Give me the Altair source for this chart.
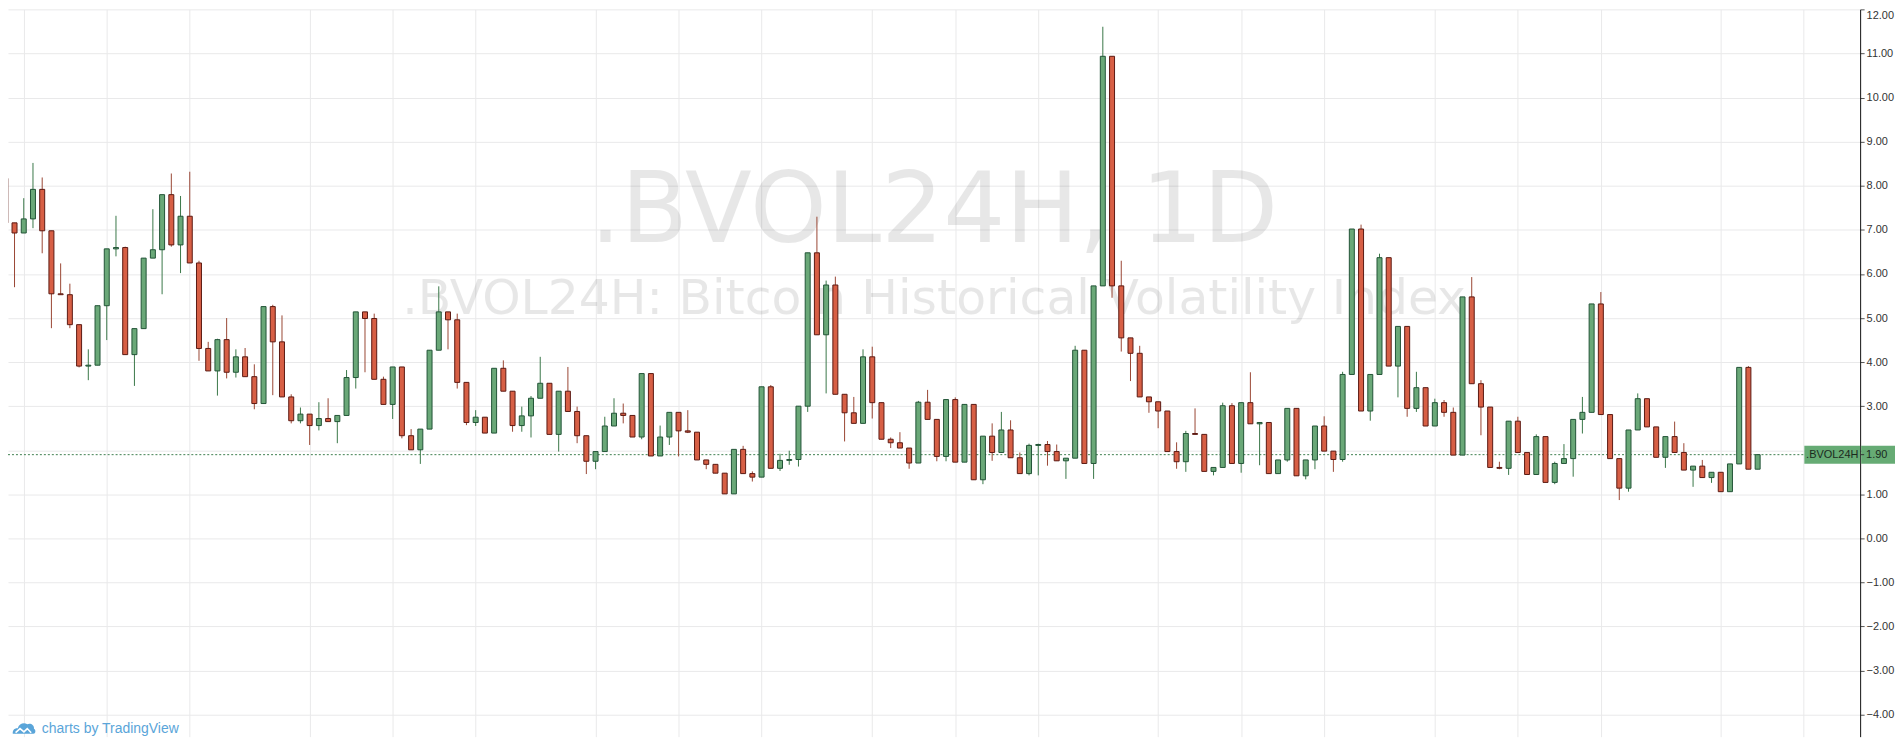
import altair as alt
import numpy as np
import pandas as pd

# ---------------- data ----------------
opens = [8.17, 7.16, 6.93, 7.25, 7.92, 6.98, 5.55, 5.53, 4.85, 3.91,
         3.93, 5.28, 6.57, 6.60, 4.17, 4.76, 6.36, 6.55, 7.80, 6.66,
         7.31, 6.25, 4.31, 3.80, 4.51, 3.77, 4.12, 3.67, 3.06, 5.26,
         4.46, 3.21, 2.67, 2.82, 2.56, 2.72, 2.65, 2.79, 3.65, 5.14,
         4.99, 3.61, 3.04, 3.89, 2.33, 2.01, 2.48, 4.27, 5.14, 4.96,
         3.54, 2.63, 2.75, 2.39, 3.86, 3.34, 2.56, 2.78, 3.18, 3.52,
         2.36, 3.34, 2.88, 2.33, 1.75, 1.97, 2.55, 2.84, 2.79, 2.30,
         3.74, 1.87, 2.30, 2.86, 2.44, 2.41, 1.78, 1.68, 1.48, 1.01,
         2.02, 1.47, 1.39, 3.44, 1.59, 1.77, 1.79, 3.00, 6.48, 4.62,
         5.75, 3.27, 2.85, 2.61, 4.12, 3.08, 2.25, 2.17, 2.05, 1.71,
         3.09, 2.70, 1.86, 3.15, 1.73, 3.04, 1.33, 2.32, 1.95, 2.46,
         1.83, 1.47, 2.11, 2.13, 1.97, 1.76, 1.82, 4.27, 1.70, 5.73,
         10.94, 5.73, 4.55, 4.20, 3.21, 3.10, 2.89, 1.97, 1.74, 2.38,
         2.36, 1.52, 1.61, 3.01, 1.70, 3.08, 2.60, 2.63, 1.47, 1.78,
         2.95, 1.42, 1.78, 2.55, 1.98, 1.79, 3.72, 7.02, 2.89, 3.72,
         6.37, 3.91, 4.81, 2.95, 3.42, 2.55, 3.08, 2.86, 1.89, 5.48,
         3.51, 2.98, 1.61, 1.59, 2.66, 1.95, 1.45, 2.31, 1.27, 1.70,
         1.81, 2.70, 2.86, 5.32, 2.81, 1.81, 1.14, 2.46, 3.17, 2.53,
         1.84, 2.31, 1.95, 1.55, 1.64, 1.38, 1.50, 1.06, 1.69, 3.88,
         1.57]
highs = [8.49, 7.16, 7.72, 8.52, 8.19, 6.98, 6.24, 5.78, 4.85, 4.29,
         5.28, 6.57, 7.32, 6.62, 4.76, 6.36, 7.47, 7.80, 8.28, 7.77,
         8.32, 6.30, 4.46, 4.53, 5.00, 4.29, 4.32, 3.95, 5.26, 5.30,
         5.06, 3.27, 2.97, 2.82, 3.09, 3.18, 2.79, 3.82, 5.14, 5.14,
         5.10, 3.67, 3.89, 3.89, 2.48, 2.48, 4.27, 5.72, 5.14, 5.10,
         3.54, 2.91, 2.75, 3.86, 4.04, 3.34, 2.99, 3.23, 4.12, 3.52,
         3.34, 3.89, 2.99, 2.33, 1.97, 2.76, 3.18, 3.06, 2.79, 3.74,
         3.74, 2.56, 2.86, 2.86, 2.91, 2.41, 1.78, 1.68, 1.48, 2.02,
         2.10, 1.52, 3.44, 3.48, 1.92, 1.99, 3.00, 6.48, 7.30, 5.85,
         5.94, 3.27, 3.21, 4.29, 4.35, 3.08, 2.29, 2.41, 2.05, 3.12,
         3.37, 2.70, 3.15, 3.20, 3.04, 3.04, 2.32, 2.61, 2.87, 2.68,
         1.95, 2.15, 2.15, 2.21, 2.13, 1.82, 4.37, 4.27, 5.73, 11.61,
         10.94, 6.30, 4.55, 4.37, 3.21, 3.10, 2.89, 2.18, 2.44, 2.95,
         2.36, 1.61, 3.08, 3.07, 3.08, 3.77, 2.63, 2.63, 1.78, 2.95,
         2.95, 1.78, 2.55, 2.77, 1.98, 3.78, 7.02, 7.12, 3.72, 6.46,
         6.37, 4.81, 4.81, 3.78, 3.42, 3.17, 3.14, 2.97, 5.48, 5.93,
         3.59, 2.98, 1.74, 2.66, 2.76, 1.95, 2.36, 2.31, 1.74, 2.14,
         2.70, 3.21, 5.32, 5.59, 2.81, 1.81, 2.46, 3.29, 3.17, 2.53,
         2.31, 2.65, 2.16, 1.64, 1.78, 1.50, 1.50, 1.69, 3.88, 3.91,
         1.90]
lows = [7.05, 5.70, 6.93, 7.04, 6.47, 4.77, 5.53, 4.77, 3.88, 3.59,
        3.93, 4.50, 6.40, 4.17, 3.46, 4.76, 6.36, 5.54, 6.62, 6.02,
        6.25, 4.03, 3.80, 3.24, 3.63, 3.65, 3.67, 2.93, 3.06, 3.25,
        3.21, 2.61, 2.61, 2.12, 2.45, 2.65, 2.16, 2.79, 3.40, 3.77,
        3.61, 3.04, 2.71, 2.27, 2.01, 1.69, 2.48, 4.27, 4.29, 3.40,
        2.57, 2.55, 2.39, 2.39, 3.34, 2.42, 2.42, 2.29, 3.18, 2.36,
        1.97, 2.88, 2.16, 1.46, 1.57, 1.97, 2.55, 2.61, 2.30, 2.25,
        1.87, 1.87, 2.12, 1.86, 2.39, 1.78, 1.57, 1.48, 1.01, 1.01,
        1.47, 1.29, 1.39, 1.59, 1.53, 1.67, 1.63, 2.87, 4.62, 3.29,
        3.27, 2.20, 2.61, 2.61, 2.72, 2.25, 2.05, 2.05, 1.58, 1.71,
        2.70, 1.75, 1.75, 1.73, 1.73, 1.33, 1.23, 1.76, 1.95, 1.83,
        1.47, 1.43, 1.43, 1.65, 1.76, 1.35, 1.82, 1.70, 1.35, 5.73,
        5.46, 4.24, 3.57, 3.21, 2.85, 2.50, 1.97, 1.58, 1.51, 2.36,
        1.52, 1.43, 1.61, 1.70, 1.49, 2.60, 1.66, 1.47, 1.47, 1.74,
        1.42, 1.34, 1.57, 1.98, 1.51, 1.74, 3.72, 2.89, 2.67, 3.72,
        3.91, 3.20, 2.76, 2.87, 2.55, 2.55, 2.76, 1.89, 1.89, 3.51,
        2.34, 1.61, 1.57, 1.44, 1.95, 1.45, 1.45, 1.27, 1.23, 1.70,
        1.40, 2.38, 2.86, 2.81, 1.81, 0.87, 1.06, 2.46, 2.53, 1.84,
        1.60, 1.95, 1.55, 1.17, 1.38, 1.26, 1.06, 1.06, 1.69, 1.57,
        1.57]
closes = [7.16, 6.93, 7.25, 7.92, 6.98, 5.55, 5.53, 4.85, 3.91, 3.93,
          5.28, 6.57, 6.60, 4.17, 4.76, 6.36, 6.55, 7.80, 6.66, 7.31,
          6.25, 4.31, 3.80, 4.51, 3.77, 4.12, 3.67, 3.06, 5.26, 4.46,
          3.21, 2.67, 2.82, 2.56, 2.72, 2.65, 2.79, 3.65, 5.14, 4.99,
          3.61, 3.04, 3.89, 2.33, 2.01, 2.48, 4.27, 5.14, 4.96, 3.54,
          2.63, 2.75, 2.39, 3.86, 3.34, 2.56, 2.78, 3.18, 3.52, 2.36,
          3.34, 2.88, 2.33, 1.75, 1.97, 2.55, 2.84, 2.79, 2.30, 3.74,
          1.87, 2.30, 2.86, 2.44, 2.41, 1.78, 1.68, 1.48, 1.01, 2.02,
          1.47, 1.39, 3.44, 1.59, 1.77, 1.79, 3.00, 6.48, 4.62, 5.75,
          3.27, 2.85, 2.61, 4.12, 3.08, 2.25, 2.17, 2.05, 1.71, 3.09,
          2.70, 1.86, 3.15, 1.73, 3.04, 1.33, 2.32, 1.95, 2.46, 1.83,
          1.47, 2.11, 2.13, 1.97, 1.76, 1.82, 4.27, 1.70, 5.73, 10.94,
          5.73, 4.55, 4.20, 3.21, 3.10, 2.89, 1.97, 1.74, 2.38, 2.36,
          1.52, 1.61, 3.01, 1.70, 3.08, 2.60, 2.63, 1.47, 1.78, 2.95,
          1.42, 1.78, 2.55, 1.98, 1.79, 3.72, 7.02, 2.89, 3.72, 6.37,
          3.91, 4.81, 2.95, 3.42, 2.55, 3.08, 2.86, 1.89, 5.48, 3.51,
          2.98, 1.61, 1.59, 2.66, 1.95, 1.45, 2.31, 1.27, 1.70, 1.81,
          2.70, 2.86, 5.32, 2.81, 1.81, 1.14, 2.46, 3.17, 2.53, 1.84,
          2.31, 1.95, 1.55, 1.64, 1.38, 1.50, 1.06, 1.69, 3.88, 1.57,
          1.90]

grid_idx = [2, 11, 20, 33, 42, 51, 64, 73, 82, 94, 103, 112, 125, 134,
            143, 155, 164, 173, 186, 195]
y_ticks = list(range(-4, 13))
last_value = [1.90]
symbol = ".BVOL24H"
title_big = ".BVOL24H, 1D"
title_small = ".BVOL24H: Bitcoin Historical Volatility Index"
credit = "charts by TradingView"

# ---------------- layout ----------------
W, H = 1859, 730
PITCH = 9.257
X0 = 0.292
x_dom = [X0, X0 + W / PITCH]
y_dom = [-4.499, 12.005]

UP_FILL, DOWN_FILL = "#6aa878", "#d75f45"
UP_LINE, DOWN_LINE = "#225437", "#5b1a13"
UP_WICK, DOWN_WICK = "#3a7748", "#9a4634"
GRID = "#e9e9ea"
LABEL_GREEN = "#66ab74"

df = pd.DataFrame({"i": np.arange(len(opens)), "open": opens, "high": highs,
                   "low": lows, "close": closes})
df["dir"] = np.where(df["close"] >= df["open"], "up", "down")

xs = alt.Scale(domain=x_dom, nice=False, zero=False, padding=0)
ys = alt.Scale(domain=y_dom, nice=False, zero=False, padding=0)

x_axis = alt.Axis(values=grid_idx, labels=False, ticks=False, domain=False,
                  title=None, grid=True, gridColor=GRID, gridWidth=1)
y_axis = alt.Axis(orient="right", values=y_ticks, title=None, grid=True,
                  gridColor=GRID, gridWidth=1,
                  labelExpr="datum.value == 2 ? '' : format(datum.value, '.2f')",
                  labelFont="Liberation Sans", labelFontSize=11,
                  labelColor="#333333", labelPadding=2,
                  labelBaseline={"condition": {"test": "datum.value == 12", "value": "top"},
                                 "value": "middle"},
                  domainColor="#111111", domainWidth=1,
                  tickColor="#555555", tickSize=4)

X = alt.X("i:Q", scale=xs, axis=x_axis)

wick_color = alt.Color("dir:N", scale=alt.Scale(domain=["up", "down"],
                                                range=[UP_WICK, DOWN_WICK]), legend=None)
fill_color = alt.Color("dir:N", scale=alt.Scale(domain=["up", "down"],
                                                range=[UP_FILL, DOWN_FILL]), legend=None)
stroke_color = alt.Stroke("dir:N", scale=alt.Scale(domain=["up", "down"],
                                                   range=[UP_LINE, DOWN_LINE]), legend=None)

# watermark texts
wm_big = alt.Chart(pd.DataFrame({"t": [title_big]})).mark_text(
    font="DejaVu Sans", fontSize=98, align="center", baseline="alphabetic",
    color="#000000", opacity=0.09
).encode(x=alt.value(W / 2), y=alt.value(234), text="t:N")

wm_small = alt.Chart(pd.DataFrame({"t": [title_small]})).mark_text(
    font="DejaVu Sans", fontSize=49, align="center", baseline="alphabetic",
    color="#000000", opacity=0.09
).encode(x=alt.value(W / 2), y=alt.value(306), text="t:N")

price_df = pd.DataFrame({"v": last_value, "sym": [symbol],
                         "lab": [f"{last_value[0]:.2f}"]})

price_line = alt.Chart(price_df).mark_rule(
    color="#3f7f50", strokeDash=[2, 2], strokeWidth=1
).encode(y=alt.Y("v:Q", scale=ys, axis=y_axis), x=alt.value(0), x2=alt.value(W - 56))

wicks = alt.Chart(df).mark_rule(strokeWidth=1, clip=True).encode(
    x=X, y=alt.Y("low:Q", scale=ys, axis=y_axis), y2="high:Q", color=wick_color)

bodies = alt.Chart(df).mark_bar(size=5, strokeWidth=1, orient="vertical", clip=True).encode(
    x=X, y=alt.Y("open:Q", scale=ys, axis=y_axis), y2="close:Q",
    fill=fill_color, stroke=stroke_color)

sym_box = alt.Chart(price_df).mark_rect(color=LABEL_GREEN, yOffset=-9, y2Offset=9).encode(
    y=alt.Y("v:Q", scale=ys, axis=y_axis), y2="v:Q", x=alt.value(W - 56), x2=alt.value(W))
sym_text = alt.Chart(price_df).mark_text(
    font="Liberation Sans", fontSize=11, color="#1b2a1e", align="center", baseline="middle"
).encode(y=alt.Y("v:Q", scale=ys, axis=y_axis), x=alt.value(W - 28), text="sym:N")

val_box = alt.Chart(price_df).mark_rect(color=LABEL_GREEN, yOffset=-9, y2Offset=9).encode(
    y=alt.Y("v:Q", scale=ys, axis=y_axis), y2="v:Q", x=alt.value(W + 1), x2=alt.value(W + 35))
val_tick = alt.Chart(price_df).mark_rule(color="#333333", strokeWidth=1).encode(
    y=alt.Y("v:Q", scale=ys, axis=y_axis), x=alt.value(W), x2=alt.value(W + 4))
val_text = alt.Chart(price_df).mark_text(
    font="Liberation Sans", fontSize=11, color="#1b2a1e", align="left", baseline="middle"
).encode(y=alt.Y("v:Q", scale=ys, axis=y_axis), x=alt.value(W + 6), text="lab:N")

# "charts by TradingView" credit with a small cloud logo
credit_df = pd.DataFrame({"t": [credit]})
cloud_path = ("M-1,0.55 C-1.05,0.2 -0.8,0 -0.55,0.05 C-0.45,-0.35 0,-0.5 0.3,-0.3 "
              "C0.55,-0.45 0.95,-0.25 0.9,0.1 C1.1,0.2 1.05,0.55 0.85,0.55 Z")
zig_path = "M-0.75,0.45 L-0.35,0.08 L0,0.38 L0.3,0.08 L0.65,0.45"
logo = alt.Chart(credit_df).mark_point(
    shape=cloud_path, filled=True, color="#5aa5d9", size=500, opacity=1
).encode(x=alt.value(16), y=alt.value(721))
logo_zig = alt.Chart(credit_df).mark_point(
    shape=zig_path, filled=False, color="#ffffff", strokeWidth=1.6, size=500, opacity=1
).encode(x=alt.value(16), y=alt.value(721))
credit_text = alt.Chart(credit_df).mark_text(
    font="Liberation Sans", fontSize=14, color="#5aa5d9", align="left", baseline="middle"
).encode(x=alt.value(34), y=alt.value(722), text="t:N")

chart = alt.layer(
    wm_big, wm_small, price_line, wicks, bodies,
    sym_box, sym_text, val_box, val_tick, val_text,
    logo, logo_zig, credit_text
).properties(
    width=W, height=H,
    padding={"left": 0, "top": 0, "right": 35, "bottom": 0},
    autosize=alt.AutoSizeParams(type="none"),
    background="#ffffff",
).configure_view(strokeWidth=0)

chart.save("out.html", embed_options={"renderer": "svg", "actions": False})
